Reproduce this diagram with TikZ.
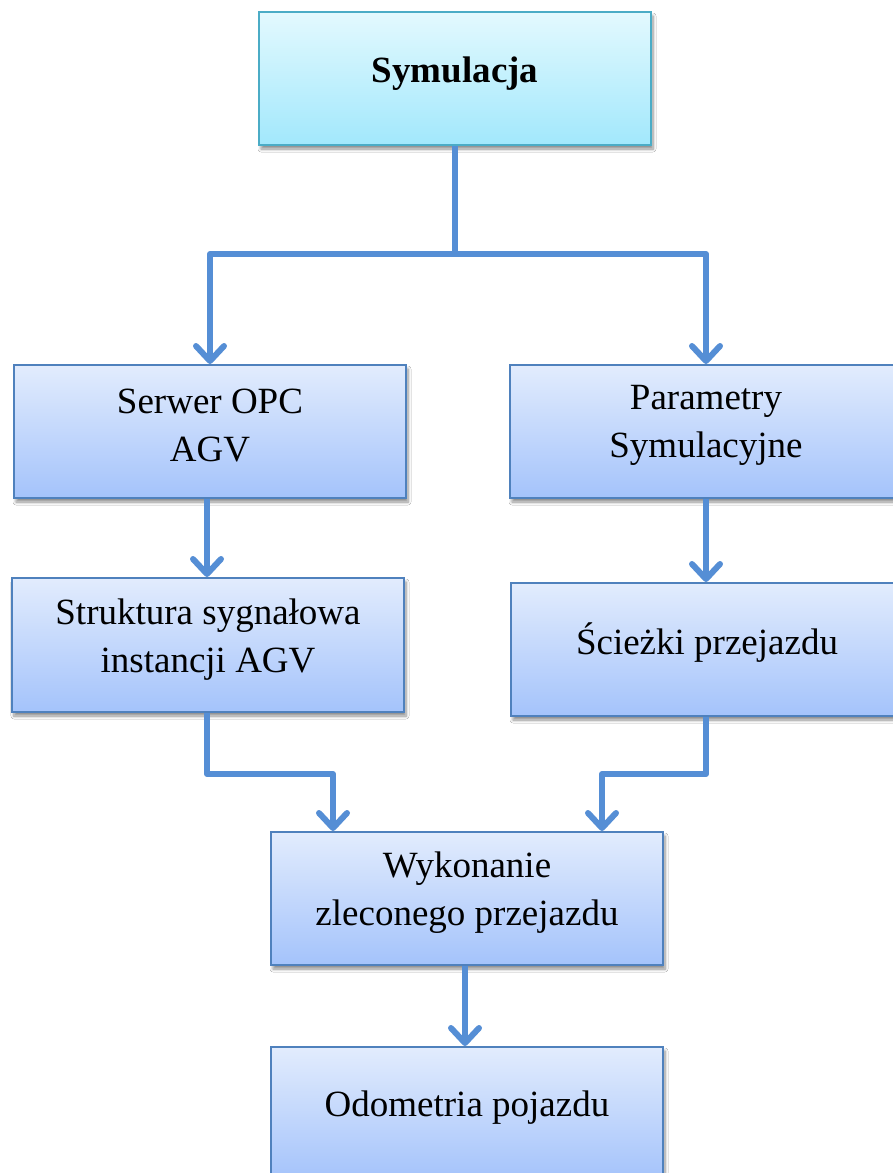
\documentclass[tikz,border=0pt]{standalone}
\usepackage{fontspec}
\setmainfont{Liberation Serif}
\usetikzlibrary{arrows.meta,shadows.blur}
\definecolor{boxtop}{HTML}{E2ECFD}
\definecolor{boxbot}{HTML}{A4C3FB}
\definecolor{boxline}{HTML}{4F81BD}
\definecolor{cyantop}{HTML}{E3F9FE}
\definecolor{cyanbot}{HTML}{A2E8FC}
\definecolor{cyanline}{HTML}{4BACC6}
\definecolor{conncol}{HTML}{558ED5}
\tikzset{
  box/.style={rectangle, draw=boxline, line width=2pt, top color=boxtop, bottom color=boxbot,
    minimum width=392pt, minimum height=133pt, inner sep=0pt,
    blur shadow={shadow xshift=2pt, shadow yshift=-4pt, shadow blur steps=6, shadow opacity=45, shadow blur radius=3pt}},
  topbox/.style={box, draw=cyanline, top color=cyantop, bottom color=cyanbot},
  txt/.style={font=\fontsize{37}{48}\selectfont, align=center, inner sep=0pt},
  conn/.style={draw=conncol, line width=6pt, -{Straight Barb[length=15pt,width=28pt,round]}},
  plain/.style={draw=conncol, line width=6pt}
}
\begin{document}
\begin{tikzpicture}[x=1pt,y=-1pt]
\useasboundingbox (0,0) rectangle (893,1173);
\clip (0,0) rectangle (893,1173);
\fill[white] (0,0) rectangle (893,1173);
% boxes
\node[topbox] (sym) at (455,78.5) {};
\node[box] (serwer) at (210,431.5) {};
\node[box] (param) at (706,431.5) {};
\node[box, minimum height=134pt] (strukt) at (208,645) {};
\node[box] (sciezki) at (707,649.5) {};
\node[box] (wyk) at (467,898.5) {};
\node[box] (odo) at (467,1113.5) {};
% texts
\node[txt, font=\fontsize{37}{48}\selectfont\bfseries] (tsym) at ([yshift=5pt]sym.center) {Symulacja};
\node[txt] (tserwer) at ([yshift=6pt]serwer.center) {Serwer OPC\\AGV};
\node[txt] (tparam) at ([yshift=6pt]param.center) {Parametry\\Symulacyjne};
\node[txt] (tstrukt) at ([yshift=5pt]strukt.center) {Struktura sygnałowa\\instancji AGV};
\node[txt] (tsciezki) at ([yshift=7pt]sciezki.center) {Ścieżki przejazdu};
\node[txt] (twyk) at ([yshift=6pt]wyk.center) {Wykonanie\\zleconego przejazdu};
\node[txt] (todo) at ([yshift=6pt]odo.center) {Odometria pojazdu};
% connectors
\draw[plain] (sym.south) -- ++(0,108) coordinate (split);
\draw[conn, line join=round] (split) -| (serwer.north);
\draw[conn, line join=round] (split) -| (param.north);
\draw[conn] ([xshift=-3pt]serwer.south) -- ([xshift=-1pt]strukt.north);
\draw[conn] (param.south) -- (param.south |- sciezki.north);
\draw[conn, line join=round] ([xshift=-1pt]strukt.south) -- ++(0,61) -| ([xshift=-134pt]wyk.north);
\draw[conn, line join=round] ([xshift=-1pt]sciezki.south) -- ++(0,57) -| ([xshift=135pt]wyk.north);
\draw[conn] ([xshift=-2pt]wyk.south) -- ([xshift=-2pt]odo.north);
\end{tikzpicture}
\end{document}
